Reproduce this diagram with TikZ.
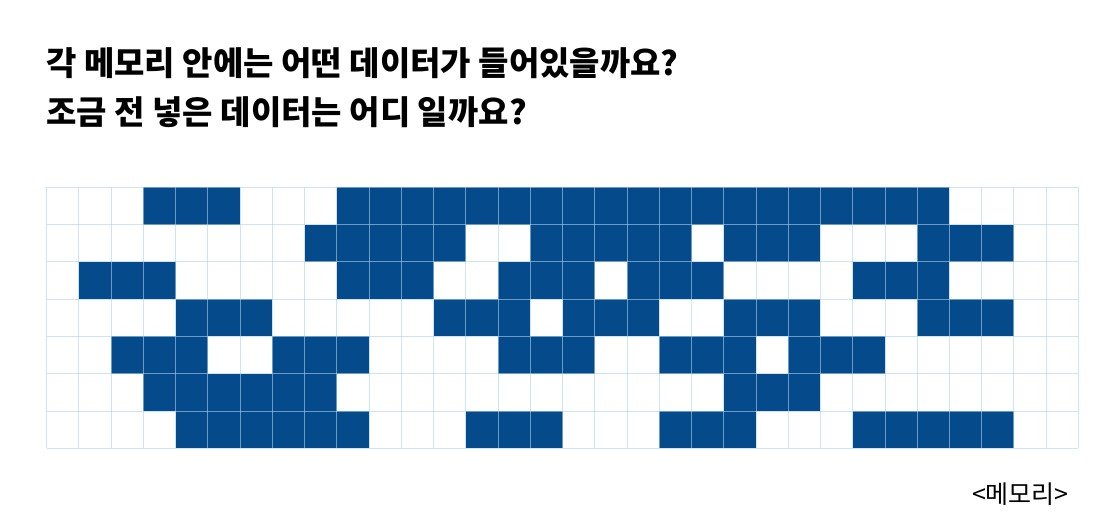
\documentclass[tikz,border=0pt]{standalone}
\usepackage{fontspec}
\newfontfamily\kr{Noto Sans CJK KR}
\definecolor{memblue}{RGB}{5,74,138}
\definecolor{gridblue}{RGB}{170,212,238}
\tikzset{
  cellfill/.style={fill=memblue},
  gridline/.style={draw=gridblue, line width=0.9pt, opacity=0.6},
  title/.style={anchor=base west, inner sep=0pt, font=\kr\bfseries\fontsize{33}{38}\selectfont},
  caption/.style={anchor=base east, inner sep=0pt, font=\kr\fontsize{25}{30}\selectfont}
}
\begin{document}
\begin{tikzpicture}[x=1pt,y=-1pt]
\useasboundingbox (0,0) rectangle (1119,532);
\node[title] (q1) at (46,76) {각 메모리 안에는 어떤 데이터가 들어있을까요?};
\node[title] (q2) at (46,125) {조금 전 넣은 데이터는 어디 일까요?};
\begin{scope}[shift={(46.7,187.3)}, x=32.24pt, y=-37.29pt]
  \foreach \r/\rl in {0/{3/5,9/27},1/{8/12,15/19,21/23,27/29},2/{1/3,9/11,14/16,18/20,25/27},3/{4/6,12/14,16/18,21/23,27/29},4/{2/4,7/9,14/16,19/21,23/25},5/{3/8,21/23},6/{4/9,13/15,19/21,25/29}}{
    \foreach \a/\b in \rl {
      \fill[cellfill] (\a,\r) rectangle (\b+1,\r+1);
    }
  }
  \foreach \c in {0,...,32} { \draw[gridline] (\c,0) -- (\c,7); }
  \foreach \r in {0,...,7} { \draw[gridline] (0,\r) -- (32,\r); }
\end{scope}
\node[caption] (lbl) at (1069,503) {<메모리>};
\end{tikzpicture}
\end{document}
